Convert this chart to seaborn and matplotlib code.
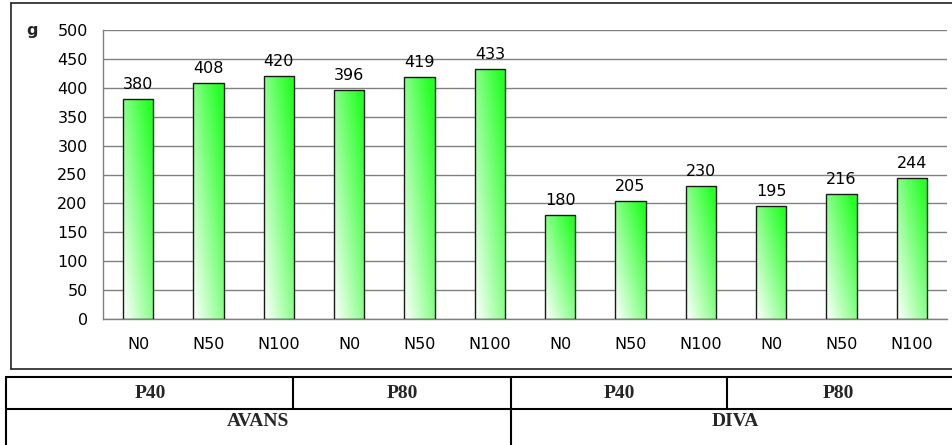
import numpy as np
import pandas as pd
import matplotlib
matplotlib.use("Agg")
import matplotlib.pyplot as plt
import seaborn as sns
from matplotlib.lines import Line2D

# data
cultivars = ["AVANS", "DIVA"]
phosphorus = ["P40", "P80"]
nitrogen = ["N0", "N50", "N100"]
weights = [380, 408, 420, 396, 419, 433, 180, 205, 230, 195, 216, 244]

labels = [n for c in cultivars for p in phosphorus for n in nitrogen]
ids = [f"{c}-{p}-{n}" for c in cultivars for p in phosphorus for n in nitrogen]
df = pd.DataFrame({"id": ids, "label": labels, "g": weights})

sns.set_style("white")
plt.rcParams["font.family"] = ["DejaVu Sans"]

W, H = 952, 445
FS = 11.5
fig = plt.figure(figsize=(W / 100, H / 100), dpi=100)
ax = fig.add_axes([103 / W, 1 - 319 / H, 844 / W, (319 - 30) / H])

sns.barplot(data=df, x="id", y="g", order=ids, ax=ax, width=0.43,
            facecolor="none", edgecolor="#1a1a1a", linewidth=1.0, zorder=3)

# gradient fill (white bottom-left -> green top-right), clipped to each bar
xx, yy = np.meshgrid(np.linspace(0, 1, 60), np.linspace(0, 1, 120))
t = np.clip(0.55 * xx + 0.55 * yy, 0, 1)
white = np.array([1.0, 1.0, 1.0])
green = np.array([0.15, 1.0, 0.15])
img = white[None, None, :] * (1 - t[..., None]) + green[None, None, :] * t[..., None]
for p in ax.patches:
    x0, y0, w, h = p.get_x(), p.get_y(), p.get_width(), p.get_height()
    im = ax.imshow(img, extent=[x0, x0 + w, y0, y0 + h], origin="lower",
                   aspect="auto", zorder=2, interpolation="bilinear")
    im.set_clip_path(p)
    ax.text(x0 + w / 2, y0 + h + 12, f"{int(round(h))}", ha="center", va="bottom",
            fontsize=FS, color="black")

ax.set_xlim(-0.5, len(ids) - 0.5)
ax.set_ylim(0, 500)
ax.set_yticks(np.arange(0, 501, 50))
ax.set_xticks(range(len(ids)))
ax.set_xticklabels(labels, fontsize=FS)
ax.set_xticks(np.arange(-0.5, len(ids), 1), minor=True)
ax.tick_params(axis="x", which="major", length=0, pad=13, labelcolor="black")
ax.tick_params(axis="x", which="minor", length=5, width=1, color="#555555", direction="out")
ax.tick_params(axis="y", length=6, width=1, color="#555555", direction="out",
               labelsize=FS, pad=5, labelcolor="black")
ax.yaxis.grid(True, color="#808080", lw=1)
ax.set_axisbelow(True)
ax.set_xlabel("")
ax.set_ylabel("")
for s in ["top", "right"]:
    ax.spines[s].set_visible(False)
for s in ["left", "bottom"]:
    ax.spines[s].set_color("#808080")
    ax.spines[s].set_linewidth(1)

fig.text(26 / W, 1 - 31 / H, "g", fontsize=FS, fontweight="bold", ha="left", va="center")


def fx(px):
    return px / W


def fy(py):
    return 1 - py / H


# outer frame of chart
for xs, ys in [((11, 11), (3, 369)), ((11, 960), (3, 3)), ((11, 960), (369, 369))]:
    fig.add_artist(Line2D([fx(v) for v in xs], [fy(v) for v in ys], color="#222222", lw=1.2))

# table below the chart
tbl = [((6, 960), (377, 377)), ((6, 960), (409, 409)),
       ((6, 6), (377, 445)), ((293, 293), (377, 409)),
       ((511, 511), (377, 445)), ((727, 727), (377, 409))]
for xs, ys in tbl:
    fig.add_artist(Line2D([fx(v) for v in xs], [fy(v) for v in ys], color="black", lw=1.5))

p_centers = [150, 402, 619, 838]
i = 0
for c in cultivars:
    for p in phosphorus:
        fig.text(fx(p_centers[i]), fy(393), p, ha="center", va="center",
                 fontsize=14, fontweight="bold", family=["Liberation Serif"])
        i += 1
for c, cx in zip(cultivars, [258, 735]):
    fig.text(fx(cx), fy(421), c, ha="center", va="center",
             fontsize=14, fontweight="bold", family=["Liberation Serif"])

fig.savefig("out.png", dpi=100, facecolor="white")
